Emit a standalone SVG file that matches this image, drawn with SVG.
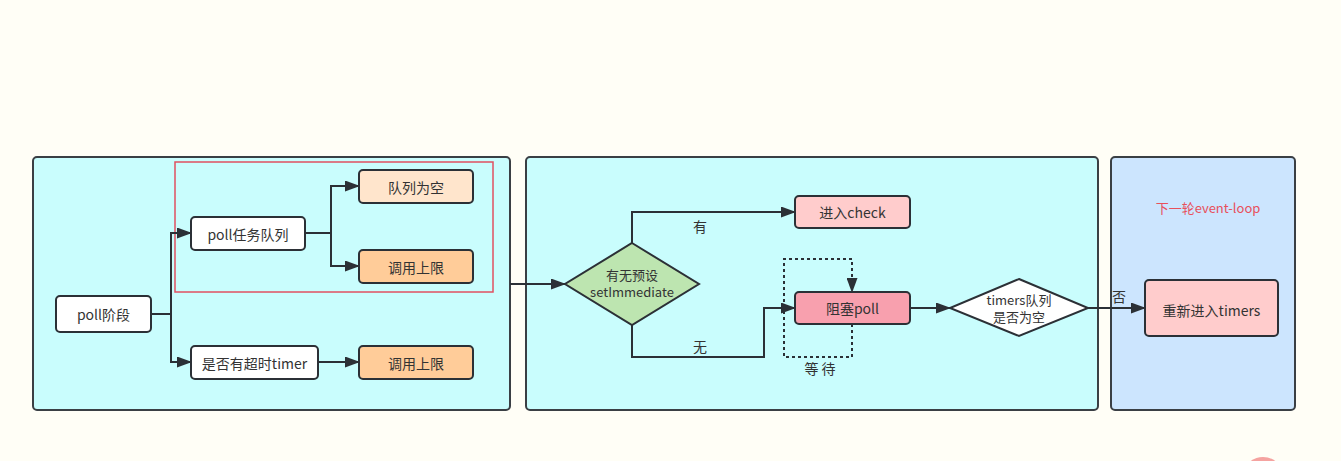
<svg xmlns="http://www.w3.org/2000/svg" width="1341" height="461" viewBox="0 0 1341 461">
<defs>
<marker id="ah" markerWidth="15" markerHeight="11" refX="14" refY="5.5" orient="auto" markerUnits="userSpaceOnUse">
<path d="M0,0 L15,5.5 L0,11 Z" fill="#2b3036"/>
</marker>
<style>
.panel{stroke:#3a3f44;stroke-width:2}
.node{stroke:#2b3036;stroke-width:2}
.t{font-family:"Noto Sans CJK SC","Noto Sans",sans-serif;font-size:14px;fill:#333;text-anchor:middle;dominant-baseline:central}
.s{font-size:13px}
.c{fill:none;stroke:#2b3036;stroke-width:2}
</style>
</defs>
<rect width="1341" height="461" fill="#fffef6"/>
<g id="panel1"><rect class="panel" x="33" y="157" width="477" height="253" rx="4" fill="#c9fdfd"/></g>
<g id="panel2"><rect class="panel" x="526" y="157" width="572" height="253" rx="4" fill="#c9fdfd"/></g>
<g id="panel3"><rect class="panel" x="1111" y="157" width="184" height="253" rx="4" fill="#cce5fe"/>
<text class="t" x="1208" y="207" style="fill:#e8505b;font-size:13px">下一轮event-loop</text></g>
<g id="redbox"><rect x="175" y="162" width="318" height="130" fill="none" stroke="#e05060" stroke-width="1.5"/></g>
<g id="connectors">
<path class="c" d="M151,314 H171 V233 H191" marker-end="url(#ah)"/>
<path class="c" d="M171,314 V362 H191" marker-end="url(#ah)"/>
<path class="c" d="M305,233 H331 V186 H359" marker-end="url(#ah)"/>
<path class="c" d="M331,233 V266 H359" marker-end="url(#ah)"/>
<path class="c" d="M318,362 H359" marker-end="url(#ah)"/>
<path class="c" d="M510,284 H565" marker-end="url(#ah)"/>
<path class="c" d="M632,243 V212 H795" marker-end="url(#ah)"/>
<path class="c" d="M632,325 V357 H764 V308 H795" marker-end="url(#ah)"/>
<path class="c" d="M852,324 V357 H784 V259 H852 V292" stroke-dasharray="3,3" marker-end="url(#ah)"/>
<path class="c" d="M910,308 H950" marker-end="url(#ah)"/>
<path class="c" d="M1088,308 H1145" marker-end="url(#ah)"/>
<text class="t" x="700" y="226">有</text>
<text class="t" x="700" y="346">无</text>
<text class="t" x="820" y="368">等 待</text>
<text class="t" x="1119" y="296">否</text>
</g>
<g id="n-poll"><rect class="node" x="56" y="296" width="95" height="36" rx="4" fill="#fff"/><text class="t" x="103.5" y="314">poll阶段</text></g>
<g id="n-queue"><rect class="node" x="191" y="217" width="114" height="33" rx="4" fill="#fff"/><text class="t" x="248" y="233.5">poll任务队列</text></g>
<g id="n-empty"><rect class="node" x="359" y="170" width="114" height="33" rx="4" fill="#ffe5cc"/><text class="t" x="416" y="186.5">队列为空</text></g>
<g id="n-limit1"><rect class="node" x="359" y="250" width="114" height="33" rx="4" fill="#ffcc99"/><text class="t" x="416" y="266.5">调用上限</text></g>
<g id="n-timer"><rect class="node" x="191" y="346" width="127" height="33" rx="4" fill="#fff"/><text class="t" x="254.5" y="362.5">是否有超时timer</text></g>
<g id="n-limit2"><rect class="node" x="359" y="346" width="114" height="33" rx="4" fill="#ffcc99"/><text class="t" x="416" y="362.5">调用上限</text></g>
<g id="n-setimm"><path class="node" d="M632,243 L699,284 L632,325 L565,284 Z" fill="#bde5b0"/><text class="t s" x="632" y="274">有无预设</text><text class="t s" x="632" y="291">setImmediate</text></g>
<g id="n-check"><rect class="node" x="795" y="196" width="115" height="32" rx="4" fill="#ffcccc"/><text class="t" x="852.5" y="212">进入check</text></g>
<g id="n-block"><rect class="node" x="795" y="292" width="115" height="32" rx="4" fill="#f8a0ae"/><text class="t" x="852.5" y="308">阻塞poll</text></g>
<g id="n-timers"><path class="node" d="M1019,279 L1088,308 L1019,336 L950,308 Z" fill="#fff"/><text class="t s" x="1019" y="299">timers队列</text><text class="t s" x="1019" y="316">是否为空</text></g>
<g id="n-reenter"><rect class="node" x="1145" y="280" width="133" height="56" rx="4" fill="#ffcccc"/><text class="t" x="1211.5" y="310">重新进入timers</text></g>
<ellipse cx="1263" cy="470" rx="17" ry="13" fill="#f5a3a0"/>
</svg>
